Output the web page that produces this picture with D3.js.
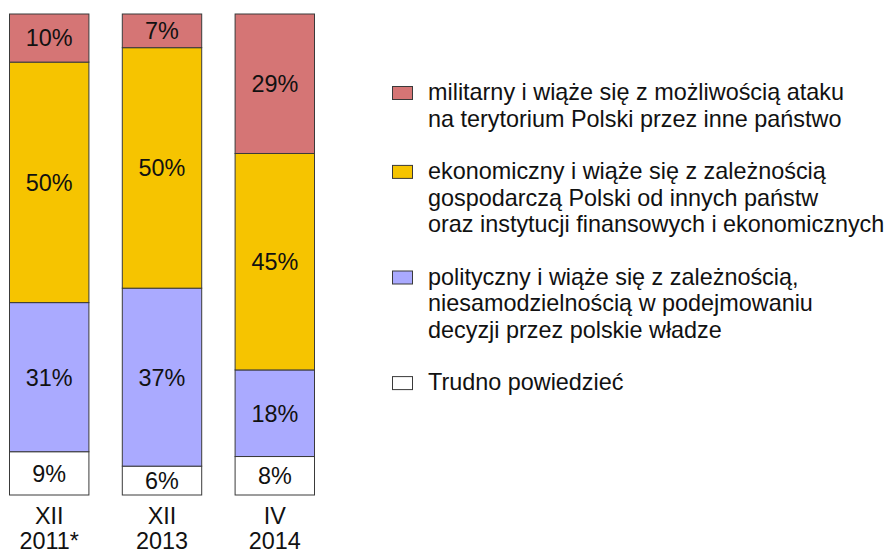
<!DOCTYPE html>
<html>
<head>
<meta charset="utf-8">
<script src="https://cdn.jsdelivr.net/npm/d3@7"></script>
<style>
  body { margin: 0; background: #fff; }
  svg { display: block; font-family: "Liberation Sans", Arial, sans-serif; }
</style>
</head>
<body>
<div id="chart"></div>
<script>
// surveys (columns)
let periods = ['XII 2011*', 'XII 2013', 'IV 2014'];
let periodLines = [['XII', '2011*'], ['XII', '2013'], ['IV', '2014']];

// answers, from bottom of the stack to the top
let trudno      = [9, 6, 8];
let polityczny  = [31, 37, 18];
let ekonomiczny = [50, 50, 45];
let militarny   = [10, 7, 29];

let seriesKeys = ['trudno', 'polityczny', 'ekonomiczny', 'militarny'];
let seriesColors = ['#ffffff', '#aaaaff', '#f6c400', '#d57575'];

// legend is listed top to bottom
let legendKeys = ['militarny', 'ekonomiczny', 'polityczny', 'trudno'];
let legendText = [
    ['militarny i wiąże się z możliwością ataku', 'na terytorium Polski przez inne państwo'],
    ['ekonomiczny i wiąże się z zależnością', 'gospodarczą Polski od innych państw', 'oraz instytucji finansowych i ekonomicznych'],
    ['polityczny i wiąże się z zależnością,', 'niesamodzielnością w podejmowaniu', 'decyzji przez polskie władze'],
    ['Trudno powiedzieć']
];

let w = 888, h = 554;
let fontSize = '23.4px';
let svg = d3.select('#chart').append('svg').attr('width', w).attr('height', h);

let rows = periods.map(function(p, i){
    return {period: p, trudno: trudno[i], polityczny: polityczny[i], ekonomiczny: ekonomiczny[i], militarny: militarny[i]};
});

let x = d3.scaleBand().domain(periods).range([9.5, 314.5]).paddingInner(0.296).paddingOuter(0);
let y = d3.scaleLinear().domain([0, 100]).range([495, 14]);
let color = d3.scaleOrdinal().domain(seriesKeys).range(seriesColors);

let stacked = d3.stack().keys(seriesKeys)(rows);

let layers = svg.selectAll('.layer').data(stacked).enter().append('g').attr('class', 'layer')
    .attr('fill', function(d){ return color(d.key); });

layers.selectAll('rect').data(function(d){ return d; }).enter().append('rect')
    .attr('x', function(d){ return x(d.data.period); })
    .attr('y', function(d){ return y(d[1]); })
    .attr('width', x.bandwidth())
    .attr('height', function(d){ return y(d[0]) - y(d[1]); })
    .attr('stroke', '#3a3a3a')
    .attr('stroke-width', 1);

// value labels, centred in each segment
layers.selectAll('text').data(function(d){ return d; }).enter().append('text')
    .attr('x', function(d){ return x(d.data.period) + x.bandwidth() / 2; })
    .attr('y', function(d){ return (y(d[0]) + y(d[1])) / 2; })
    .attr('dy', '0.36em')
    .attr('text-anchor', 'middle')
    .attr('fill', '#111')
    .style('font-size', fontSize)
    .text(function(d){ return (d[1] - d[0]) + '%'; });

// category labels under the bars, two lines each
let catLabels = svg.selectAll('.cat').data(periods).enter().append('text').attr('class', 'cat')
    .attr('text-anchor', 'middle')
    .attr('fill', '#111')
    .style('font-size', fontSize);
catLabels.selectAll('tspan').data(function(d, i){ return periodLines[i]; }).enter().append('tspan')
    .attr('x', function(){ let p = d3.select(this.parentNode).datum(); return x(p) + x.bandwidth() / 2; })
    .attr('y', function(d, j){ return 523.5 + j * 25.5; })
    .text(function(d){ return d; });

// legend
let lineH = 26.7, gap = 25.5;
let legendY = [], yy = 100;
legendText.forEach(function(lines){ legendY.push(yy); yy += lines.length * lineH + gap; });

let legend = svg.selectAll('.legend').data(legendKeys).enter().append('g').attr('class', 'legend')
    .attr('transform', function(d, i){ return 'translate(392,' + legendY[i] + ')'; });

legend.append('rect')
    .attr('x', 0.5).attr('y', -13.5)
    .attr('width', 20).attr('height', 13)
    .attr('fill', function(d){ return color(d); })
    .attr('stroke', '#3a3a3a');

legend.append('text')
    .attr('fill', '#111')
    .style('font-size', fontSize)
    .selectAll('tspan').data(function(d, i){ return legendText[i]; }).enter().append('tspan')
    .attr('x', 36)
    .attr('y', function(d, j){ return j * lineH; })
    .text(function(d){ return d; });
</script>
</body>
</html>
